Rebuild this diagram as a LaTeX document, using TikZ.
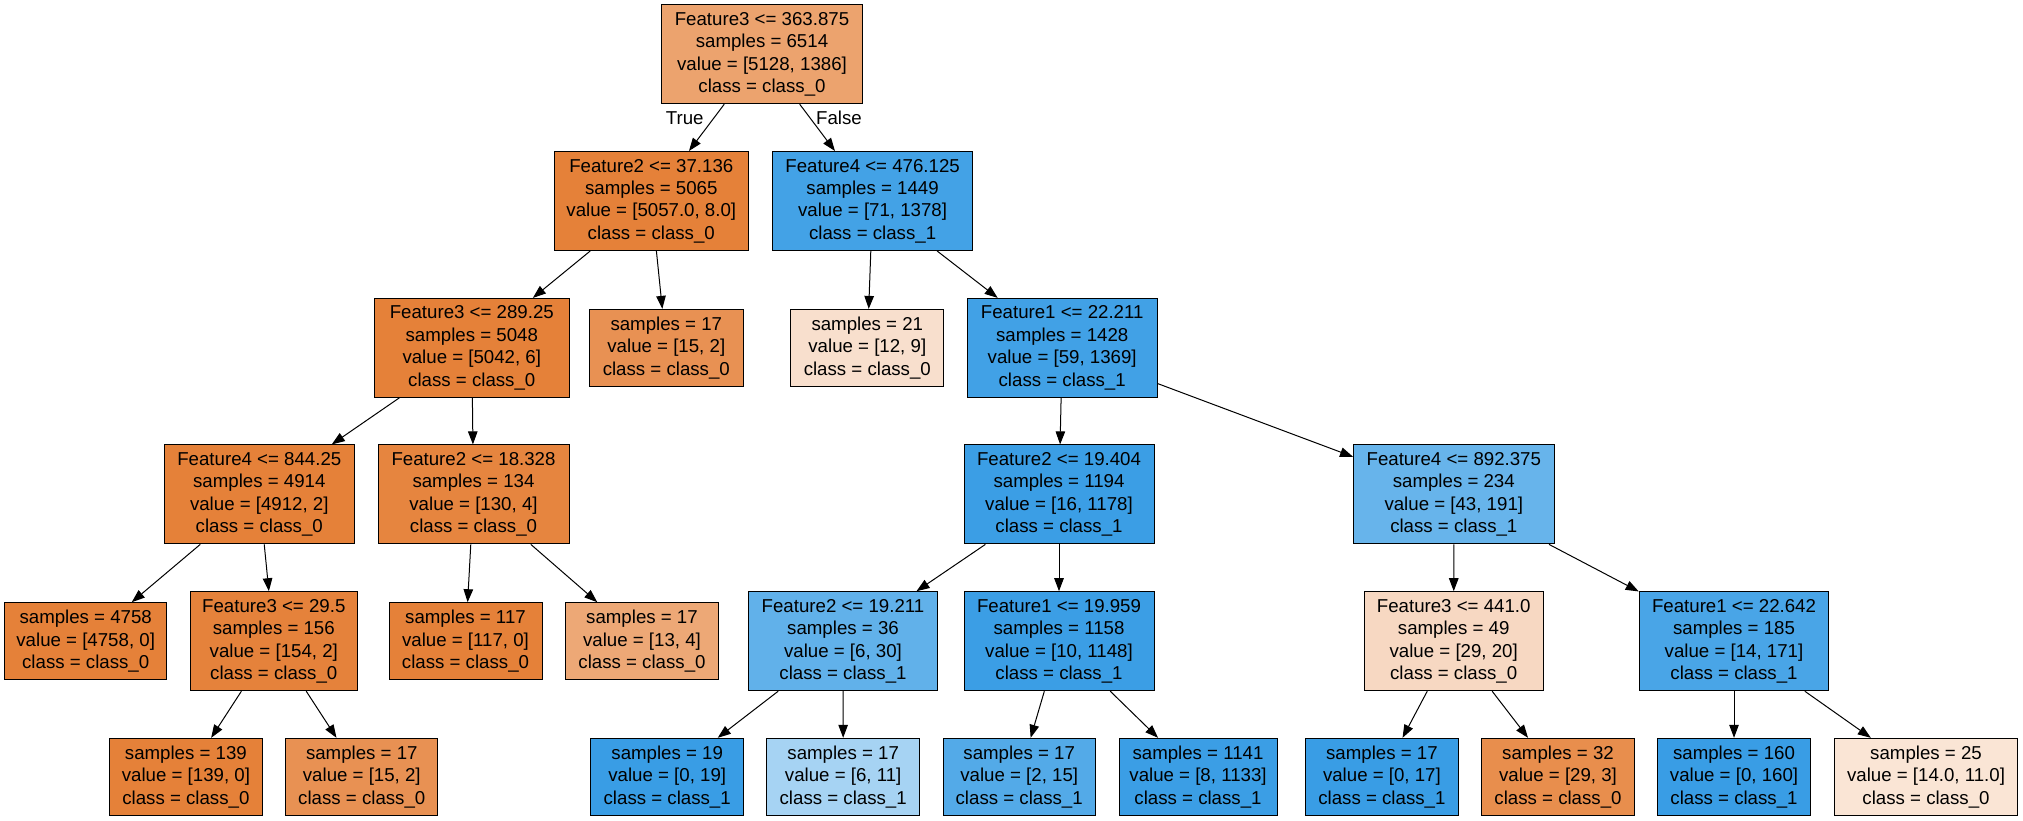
\documentclass[tikz,border=0pt]{standalone}
\usepackage{fontspec}
\setmainfont{Liberation Sans}
\usetikzlibrary{arrows.meta}
\definecolor{czero}{RGB}{229,129,57}
\definecolor{cone}{RGB}{57,157,229}
\begin{document}
\begin{tikzpicture}[x=1pt,y=-1pt,
  box/.style={draw=black, line width=1pt, inner sep=0pt, align=center,
    font=\fontsize{18.67}{22.4}\selectfont},
  split/.style={box, minimum height=99pt},
  leaf/.style={box, minimum height=77pt},
  edge/.style={-{Triangle[length=13pt,width=9.5pt]}, line width=1pt},
  lbl/.style={font=\fontsize{18.67}{22.4}\selectfont, inner sep=0pt}]
\useasboundingbox (0,0) rectangle (2023,821);

% rank 0
\node[split, fill=czero!73!white, minimum width=200.6pt] (n0) at (762,54.2)
  {Feature3 <= 363.875\\samples = 6514\\value = [5128, 1386]\\class = class\_0};

% rank 1
\node[split, fill=czero, minimum width=194pt] (n1) at (651.3,201)
  {Feature2 <= 37.136\\samples = 5065\\value = [5057.0, 8.0]\\class = class\_0};
\node[split, fill=cone!95!white, minimum width=200.7pt] (n2) at (872.6,201)
  {Feature4 <= 476.125\\samples = 1449\\value = [71, 1378]\\class = class\_1};

% rank 2
\node[split, fill=czero, minimum width=194.4pt] (n3) at (471.8,347.9)
  {Feature3 <= 289.25\\samples = 5048\\value = [5042, 6]\\class = class\_0};
\node[leaf, fill=czero!87!white, minimum width=153.4pt] (n4) at (666.3,347.9)
  {samples = 17\\value = [15, 2]\\class = class\_0};
\node[leaf, fill=czero!25!white, minimum width=153pt] (n5) at (867.3,347.9)
  {samples = 21\\value = [12, 9]\\class = class\_0};
\node[split, fill=cone!96!white, minimum width=189.8pt] (n6) at (1062.2,347.9)
  {Feature1 <= 22.211\\samples = 1428\\value = [59, 1369]\\class = class\_1};

% rank 3
\node[split, fill=czero, minimum width=190pt] (n7) at (259.3,494.4)
  {Feature4 <= 844.25\\samples = 4914\\value = [4912, 2]\\class = class\_0};
\node[split, fill=czero!97!white, minimum width=191pt] (n8) at (473.5,494.4)
  {Feature2 <= 18.328\\samples = 134\\value = [130, 4]\\class = class\_0};
\node[split, fill=cone!99!white, minimum width=190pt] (n9) at (1059,494.4)
  {Feature2 <= 19.404\\samples = 1194\\value = [16, 1178]\\class = class\_1};
\node[split, fill=cone!77!white, minimum width=200.5pt] (n10) at (1453.8,494.4)
  {Feature4 <= 892.375\\samples = 234\\value = [43, 191]\\class = class\_1};

% rank 4
\node[leaf, fill=czero, minimum width=162.2pt] (n11) at (85.7,641.2)
  {samples = 4758\\value = [4758, 0]\\class = class\_0};
\node[split, fill=czero!99!white, minimum width=167.5pt] (n12) at (273.8,641.2)
  {Feature3 <= 29.5\\samples = 156\\value = [154, 2]\\class = class\_0};
\node[leaf, fill=czero, minimum width=153pt] (n13) at (465.5,641.2)
  {samples = 117\\value = [117, 0]\\class = class\_0};
\node[leaf, fill=czero!69!white, minimum width=153pt] (n14) at (642,641.2)
  {samples = 17\\value = [13, 4]\\class = class\_0};
\node[split, fill=cone!80!white, minimum width=189.7pt] (n15) at (843,641.2)
  {Feature2 <= 19.211\\samples = 36\\value = [6, 30]\\class = class\_1};
\node[split, fill=cone!99!white, minimum width=190pt] (n16) at (1059,641.2)
  {Feature1 <= 19.959\\samples = 1158\\value = [10, 1148]\\class = class\_1};
\node[split, fill=czero!31!white, minimum width=178.6pt] (n17) at (1453.7,641.2)
  {Feature3 <= 441.0\\samples = 49\\value = [29, 20]\\class = class\_0};
\node[split, fill=cone!92!white, minimum width=189.6pt] (n18) at (1734,641.2)
  {Feature1 <= 22.642\\samples = 185\\value = [14, 171]\\class = class\_1};

% rank 5
\node[leaf, fill=czero, minimum width=153.2pt] (n19) at (185.9,776.8)
  {samples = 139\\value = [139, 0]\\class = class\_0};
\node[leaf, fill=czero!87!white, minimum width=152.2pt] (n20) at (361.8,776.8)
  {samples = 17\\value = [15, 2]\\class = class\_0};
\node[leaf, fill=cone, minimum width=153pt] (n21) at (667.2,776.8)
  {samples = 19\\value = [0, 19]\\class = class\_1};
\node[leaf, fill=cone!45!white, minimum width=152.5pt] (n22) at (843.2,776.8)
  {samples = 17\\value = [6, 11]\\class = class\_1};
\node[leaf, fill=cone!87!white, minimum width=152.4pt] (n23) at (1019.2,776.8)
  {samples = 17\\value = [2, 15]\\class = class\_1};
\node[leaf, fill=cone!99!white, minimum width=158pt] (n24) at (1198,776.8)
  {samples = 1141\\value = [8, 1133]\\class = class\_1};
\node[leaf, fill=cone, minimum width=152.6pt] (n25) at (1381.9,776.8)
  {samples = 17\\value = [0, 17]\\class = class\_1};
\node[leaf, fill=czero!90!white, minimum width=153pt] (n26) at (1558,776.8)
  {samples = 32\\value = [29, 3]\\class = class\_0};
\node[leaf, fill=cone, minimum width=152.6pt] (n27) at (1734,776.8)
  {samples = 160\\value = [0, 160]\\class = class\_1};
\node[leaf, fill=czero!21!white, minimum width=183pt] (n28) at (1926,776.8)
  {samples = 25\\value = [14.0, 11.0]\\class = class\_0};

% branch labels of the root split
\node[lbl] (tl) at (684.7,118.3) {True};
\node[lbl] (fl) at (839,118.3) {False};

% connectors
\draw[edge] (n0) -- (n1);
\draw[edge] (n0) -- (n2);
\draw[edge] (n1) -- (n3);
\draw[edge] (n1) -- (n4);
\draw[edge] (n2) -- (n5);
\draw[edge] (n2) -- (n6);
\draw[edge] (n3) -- (n7);
\draw[edge] (n3) -- (n8);
\draw[edge] (n6) -- (n9);
\draw[edge] (n6) -- (n10);
\draw[edge] (n7) -- (n11);
\draw[edge] (n7) -- (n12);
\draw[edge] (n8) -- (n13);
\draw[edge] (n8) -- (n14);
\draw[edge] (n9) -- (n15);
\draw[edge] (n9) -- (n16);
\draw[edge] (n10) -- (n17);
\draw[edge] (n10) -- (n18);
\draw[edge] (n12) -- (n19);
\draw[edge] (n12) -- (n20);
\draw[edge] (n15) -- (n21);
\draw[edge] (n15) -- (n22);
\draw[edge] (n16) -- (n23);
\draw[edge] (n16) -- (n24);
\draw[edge] (n17) -- (n25);
\draw[edge] (n17) -- (n26);
\draw[edge] (n18) -- (n27);
\draw[edge] (n18) -- (n28);
\end{tikzpicture}
\end{document}
